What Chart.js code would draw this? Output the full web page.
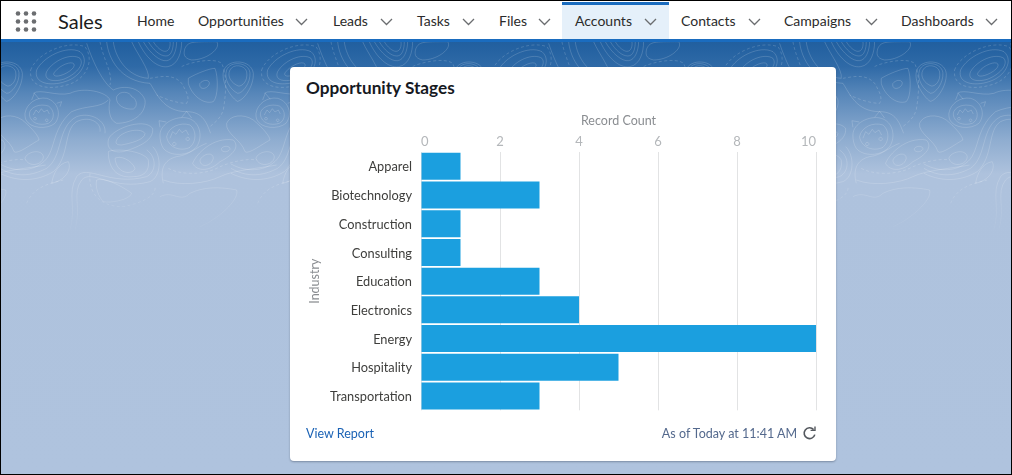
<!DOCTYPE html>
<html>
<head>
<meta charset="utf-8">
<script src="https://cdn.jsdelivr.net/npm/chart.js@4/dist/chart.umd.min.js"></script>
<style>
html, body { margin: 0; padding: 0; }
body { width: 1012px; height: 475px; position: relative; overflow: hidden; font-family: Lato, sans-serif; background: #afc3de; }
#bg { position: absolute; left: 0; top: 42px; width: 1012px; height: 433px;
  background: linear-gradient(to bottom, #215f9f 0px, #2f6aa7 25px, #5585b8 50px, #8fadd0 98px, #aec2dd 132px, #afc3de 100%); }
#topo { position: absolute; left: 0; top: 42px; }
#nav { position: absolute; left: 0; top: 0; width: 1012px; height: 39px; background: #fff; }
#navline { position: absolute; left: 0; top: 39px; width: 1012px; height: 3px; background: #1a6cbf; }
#tab { position: absolute; left: 562px; top: 2px; width: 107px; height: 37px; background: #e5f0fa; border-top: 3px solid #1a6cbf; box-sizing: border-box; }
.item { position: absolute; top: 12px; font-size: 14px; line-height: 18px; color: #2b2b2b; white-space: nowrap; }
.chev { position: absolute; top: 18px; }
#app { position: absolute; left: 58px; top: 8px; font-size: 20px; line-height: 26px; color: #1c1c1c; }
#card { position: absolute; left: 290px; top: 67px; width: 546px; height: 394px; background: #fff; border-radius: 4px; box-shadow: 0 1px 2px rgba(60,70,90,.45); }
#title { position: absolute; left: 16px; top: 10px; font-size: 17.2px; line-height: 22px; font-weight: 700; color: #16191f; }
#report { position: absolute; left: 16px; top: 358px; font-size: 12.5px; line-height: 18px; color: #1a62b5; }
#asof { position: absolute; right: 39px; top: 358px; font-size: 12.5px; line-height: 18px; color: #54698d; }
#wrap { position: absolute; left: 10px; top: 38px; width: 530px; height: 322px; }
#frame { position: absolute; left: 0; top: 0; width: 1010px; height: 473px; border: 1px solid #000; pointer-events: none; }
</style>
</head>
<body>
<div id="bg"></div>
<svg id="topo" width="1012" height="200" fill="none" stroke="#fff" stroke-opacity=".17" stroke-width="3">
  <defs>
    <linearGradient id="fade" x1="0" y1="0" x2="0" y2="1"><stop offset="0" stop-color="#fff"/><stop offset=".7" stop-color="#fff"/><stop offset="1" stop-color="#fff" stop-opacity="0"/></linearGradient>
    <mask id="m"><rect width="1012" height="200" fill="url(#fade)"/></mask>
    <g id="tile">
      <path d="M165 95C180 75 215 62 222 72C228 85 195 105 175 108C160 110 158 102 165 95Z"/>
      <path d="M140 95C160 60 215 38 240 55C255 75 225 105 190 118C155 128 130 118 140 95Z"/>
      <path d="M110 90C130 50 200 15 240 35C270 60 245 110 195 125C150 140 100 130 110 90Z"/>
      <path d="M92 90C110 40 200 0 255 20C285 60 260 120 200 135C150 150 85 145 92 90Z" stroke-dasharray="9 7"/>
      <path d="M565 115C590 100 630 85 645 85C655 110 655 170 640 185C610 195 575 165 565 130Z"/>
      <path d="M600 130C610 118 630 118 628 132C620 150 595 150 600 130Z"/>
      <path d="M690 90C700 70 735 75 740 95C745 125 725 140 715 138C695 130 680 110 690 90Z"/>
      <path d="M680 90C690 62 745 65 750 98C752 130 728 160 713 160C692 150 670 118 680 90Z"/>
      <path d="M672 90C685 55 755 58 760 100C762 140 730 182 712 184C690 170 660 120 672 90Z"/>
      <path d="M480 285C480 250 530 225 565 235C600 245 610 290 590 320C565 350 510 350 490 325C482 312 480 300 480 285Z"/>
      <path d="M500 290C505 262 540 245 570 255C590 270 590 305 570 322C545 335 505 325 500 290Z"/>
      <path d="M480 262l-3-20 22 4M545 232l15-18 15 20"/>
      <path d="M510 295l8-20 10 8 10-15 8 10 12-8 8 15"/>
      <path d="M523 307a5 5 0 1 0 .1 0M563 292a5 5 0 1 0 .1 0"/>
      <path d="M75 220C80 190 110 170 140 175C175 185 185 225 165 250C140 270 90 265 78 240C75 232 75 228 75 220Z"/>
      <path d="M88 222C90 200 120 190 145 198C165 210 165 240 145 250C120 258 90 250 88 222Z"/>
      <path d="M95 180l8-20 15 18M170 190l15-5-5 15"/>
      <path d="M100 225l8-15 8 8 8-12 8 10 10-6 6 12"/>
      <path d="M105 232a4 4 0 1 0 .1 0M140 237a4 4 0 1 0 .1 0"/>
      <path d="M350 170C360 150 390 155 395 170C410 175 415 200 400 207C375 210 345 195 350 170Z"/>
      <path d="M260 10C280 70 310 130 340 150C370 135 420 140 435 180C440 220 400 250 350 250C325 240 325 200 330 180C320 155 250 140 210 160C170 170 120 145 100 160" />
      <path d="M340 5C345 50 380 110 445 115C450 90 410 40 395 5"/>
      <path d="M320 5C325 55 360 125 450 130C470 160 490 215 560 215C610 215 620 250 632 280"/>
      <path d="M300 5C310 60 340 100 330 135" stroke-dasharray="9 7"/>
      <path d="M430 5C450 40 480 65 500 62C520 60 530 30 530 5"/>
      <path d="M445 5C460 30 480 48 498 48C515 48 520 25 520 5"/>
      <path d="M460 5C470 22 485 34 495 34C508 34 512 18 510 5"/>
      <path d="M415 5C435 50 470 85 503 80C535 75 545 35 545 5"/>
      <path d="M555 25C565 5 575 5 650 5C665 25 620 60 575 60C550 55 550 40 555 25Z"/>
      <path d="M545 80C560 70 640 50 665 70C680 100 680 150 670 210C660 240 640 250 630 260" stroke-dasharray="9 7"/>
      <path d="M450 115C480 110 520 100 545 130C560 155 570 175 560 190C530 190 490 175 470 165" stroke-dasharray="9 7"/>
      <path d="M680 250C690 225 730 220 760 240C790 265 810 290 810 300C790 310 745 345 735 335C725 300 675 280 680 250Z"/>
      <path d="M75 355C80 335 125 325 130 350C130 375 85 385 75 355Z"/>
      <path d="M155 430C160 400 175 370 205 365C215 385 200 420 155 430Z"/>
      <path d="M345 355C360 345 395 360 405 385C400 405 350 405 345 355Z"/>
      <path d="M325 335C340 325 430 330 445 360C450 395 430 410 400 410C360 415 325 395 325 335Z"/>
      <path d="M350 300C360 275 420 260 435 280C435 300 390 310 365 315C350 315 345 310 350 300Z"/>
      <path d="M325 300C330 270 430 230 458 265C462 300 420 320 370 335C335 340 320 325 325 300Z"/>
      <path d="M578 370C590 340 640 290 700 300C720 320 700 345 660 365C630 395 590 395 578 370Z"/>
      <path d="M600 360C610 340 640 335 640 355C635 380 600 385 600 360Z"/>
      <path d="M665 325C672 315 692 318 690 328C682 340 660 336 665 325Z"/>
      <path d="M0 385C60 420 110 400 140 385C190 350 170 260 230 230C270 215 320 240 315 280"/>
      <path d="M0 400C60 430 120 420 160 395C210 350 190 270 230 245C270 225 305 250 300 275"/>
      <path d="M0 372C50 400 100 390 125 370C170 340 150 270 215 215C260 195 300 205 325 180"/>
      <path d="M210 570C230 500 200 460 230 410C260 370 330 440 440 410C470 395 470 350 440 330"/>
      <path d="M225 570C245 500 215 460 245 420C275 385 340 455 450 425C485 410 485 345 458 320"/>
      <path d="M490 430C480 390 490 360 530 350C570 345 590 320 620 310"/>
      <path d="M490 420C540 440 620 430 660 410C700 390 780 385 830 375"/>
      <path d="M505 385C540 405 610 405 650 385C690 365 740 355 770 360" stroke-dasharray="9 7"/>
      <path d="M290 420C310 410 370 440 395 460C390 480 330 490 310 485C295 470 285 440 290 420Z"/>
      <path d="M270 400C265 450 290 500 370 500C420 490 470 470 465 440" stroke-dasharray="9 7"/>
      <path d="M80 490C100 440 150 430 190 420" stroke-dasharray="9 7"/>
      <path d="M480 470C520 450 540 490 570 460C610 440 660 440 710 450C720 480 650 540 600 560"/>
    </g>
  </defs>
  <g mask="url(#m)">
    <g transform="translate(0 -2) scale(.3333)">
      <use href="#tile" x="-693"/><use href="#tile" x="0"/><use href="#tile" x="693"/>
      <use href="#tile" x="1386"/><use href="#tile" x="2079"/><use href="#tile" x="2772"/>
    </g>
  </g>
</svg>
<div id="nav"></div>
<div id="navline"></div>
<div id="tab"></div>
<svg style="position:absolute;left:15px;top:11px" width="22" height="22" fill="#6b6d70">
  <circle cx="3" cy="2.5" r="2.3"/><circle cx="11" cy="2.5" r="2.3"/><circle cx="19" cy="2.5" r="2.3"/>
  <circle cx="3" cy="10.5" r="2.3"/><circle cx="11" cy="10.5" r="2.3"/><circle cx="19" cy="10.5" r="2.3"/>
  <circle cx="3" cy="18.5" r="2.3"/><circle cx="11" cy="18.5" r="2.3"/><circle cx="19" cy="18.5" r="2.3"/>
</svg>
<div id="app">Sales</div>
<div id="items"></div>
<div id="card">
  <div id="title">Opportunity Stages</div>
  <div id="wrap"><canvas id="chart"></canvas></div>
  <div id="report">View Report</div>
  <div id="asof">As of Today at 11:41 AM</div>
  <svg style="position:absolute;left:512px;top:359px" width="15" height="15" fill="none" stroke="#54585e" stroke-width="1.6">
    <path d="M11.6 3.6A5.4 5.4 0 1 0 12.8 8.6"/>
    <path d="M8.6 4.4h4.4V0.4" stroke-width="1.4"/>
  </svg>
</div>
<div id="frame"></div>
<script>
const categories = ['Apparel', 'Biotechnology', 'Construction', 'Consulting', 'Education', 'Electronics', 'Energy', 'Hospitality', 'Transportation'];
const recordCounts = [1, 3, 1, 1, 3, 4, 10, 5, 3];
const navLabels = ['Home', 'Opportunities', 'Leads', 'Tasks', 'Files', 'Accounts', 'Contacts', 'Campaigns', 'Dashboards'];
const navLefts = [137, 198, 333, 417, 499, 575, 681, 784, 901];
const chevLefts = [null, 295, 380, 462, 538, 644, 748, 865, 985];

// top nav
const items = document.getElementById('items');
navLabels.forEach((label, i) => {
    const el = document.createElement('div');
    el.className = 'item';
    el.style.left = navLefts[i] + 'px';
    el.textContent = label;
    items.appendChild(el);
    if (chevLefts[i] !== null) {
        const ns = 'http://www.w3.org/2000/svg';
        const svg = document.createElementNS(ns, 'svg');
        svg.setAttribute('class', 'chev');
        svg.setAttribute('width', '13');
        svg.setAttribute('height', '8');
        svg.style.left = chevLefts[i] + 'px';
        const p = document.createElementNS(ns, 'path');
        p.setAttribute('d', 'M1 1l5.5 5.5L12 1');
        p.setAttribute('fill', 'none');
        p.setAttribute('stroke', '#6b6d70');
        p.setAttribute('stroke-width', '1.3');
        svg.appendChild(p);
        items.appendChild(svg);
    }
});

Chart.defaults.font.family = 'Lato, sans-serif';
Chart.defaults.animation = false;

new Chart(document.getElementById('chart'), {
    type: 'bar',
    data: {
        labels: categories,
        datasets: [{
            label: 'Record Count',
            data: recordCounts,
            backgroundColor: '#1b9fdf',
            borderWidth: 0,
            categoryPercentage: 1,
            barPercentage: 0.94
        }]
    },
    options: {
        indexAxis: 'y',
        responsive: true,
        maintainAspectRatio: false,
        layout: { padding: { left: 7, right: 14, top: 8, bottom: 0 } },
        plugins: { legend: { display: false }, tooltip: { enabled: false } },
        scales: {
            x: {
                position: 'top',
                min: 0,
                max: 10,
                afterFit: (scale) => { scale.height = 39; },
                title: { display: true, text: 'Record Count', color: '#8a8d91', font: { size: 12.5 }, padding: { top: 0, bottom: 4 } },
                ticks: { stepSize: 2, align: 'inner', color: '#b4b7ba', font: { size: 13 }, padding: 2, maxRotation: 0 },
                grid: { color: '#e2e3e4', lineWidth: 1, drawTicks: false },
                border: { display: false }
            },
            y: {
                afterFit: (scale) => { scale.width = 114; },
                title: { display: true, text: 'Industry', color: '#8a8d91', font: { size: 12.5 }, padding: 0 },
                ticks: { color: '#3e3e3c', font: { size: 12.8 }, padding: 9, autoSkip: false, labelOffset: 1 },
                grid: { display: false, drawTicks: false },
                border: { display: false }
            }
        }
    }
});
</script>
</body>
</html>
